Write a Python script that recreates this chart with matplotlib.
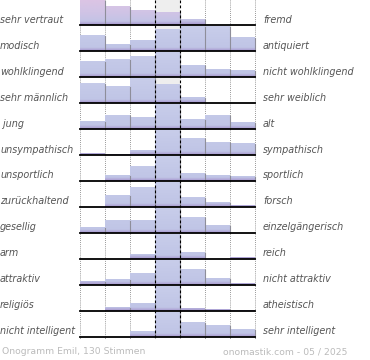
import numpy as np
import matplotlib.pyplot as plt
from matplotlib.colors import LinearSegmentedColormap

# left / right labels of each pair
left_labels = ['sehr vertraut', 'modisch', 'wohlklingend', 'sehr männlich', ' jung',
               'unsympathisch', 'unsportlich', 'zurückhaltend', 'gesellig', 'arm',
               'attraktiv', 'religiös', 'nicht intelligent']
right_labels = ['fremd', 'antiquiert', 'nicht wohlklingend', 'sehr weiblich', 'alt',
                'sympathisch', 'sportlich', 'forsch', 'einzelgängerisch', 'reich',
                'nicht attraktiv', 'atheistisch', 'sehr intelligent']

# relative share per answer (max of each row = 100)
values = [
    [100, 78, 60, 52, 25, 0, 0],
    [64, 28, 44, 88, 100, 100, 56],
    [66, 74, 86, 100, 48, 31, 28],
    [80, 68, 100, 76, 24, 0, 0],
    [33, 56, 49, 100, 40, 55, 28],
    [8, 4, 20, 100, 69, 51, 48],
    [0, 23, 59, 100, 32, 23, 19],
    [0, 48, 79, 100, 39, 21, 8],
    [24, 52, 52, 100, 64, 32, 0],
    [0, 0, 21, 100, 28, 0, 6],
    [17, 24, 48, 100, 62, 26, 8],
    [0, 15, 31, 100, 13, 8, 4],
    [0, 0, 23, 100, 57, 47, 31],
]

footer_left = 'Onogramm Emil, 130 Stimmen'
footer_right = 'onomastik.com - 05 / 2025'

cmap_first = LinearSegmentedColormap.from_list('first', [
    (0, '#dcc4e4'), (0.5, '#d0c4e6'), (0.86, '#c3c3e5'), (0.93, '#b3a9d8'), (1, '#a696cd')])
cmap_rest = LinearSegmentedColormap.from_list('rest', [
    (0, '#c8cdea'), (0.86, '#c0c5e6'), (0.93, '#b3acd9'), (1, '#a797ce')])
grad = np.linspace(0, 1, 64).reshape(-1, 1)

fig = plt.figure(figsize=(3.7, 3.6), dpi=100)
ax = fig.add_axes([0, 0, 1, 1])
ax.set_xlim(0, 370)
ax.set_ylim(360, 0)
ax.axis('off')

x0, colw = 80, 24.95
y0, rowh, maxh = 25.3, 25.95, 25
n = len(values)
last = y0 + rowh * (n - 1)

# grey background of the middle column
ax.axvspan(x0 + 3 * colw, x0 + 4 * colw, ymin=1 - (last + 1) / 360, ymax=1,
           color='#eeeeee', zorder=0, lw=0)

xs = [x0 + colw * (j + 0.5) for j in range(7)]
for i, row in enumerate(values):
    base = y0 + rowh * i
    hs = [v / 100 * maxh for v in row]
    bars = ax.bar(xs, [-h for h in hs], width=colw, bottom=base,
                  color='#c4c9e7', linewidth=0, zorder=2)
    cm = cmap_first if i == 0 else cmap_rest
    for b, h, x in zip(bars, hs, xs):
        if h <= 0:
            continue
        im = ax.imshow(grad, cmap=cm, aspect='auto', interpolation='bilinear',
                       extent=[x0, x0 + 7 * colw, base, base - maxh], zorder=2.2)
        im.set_clip_path(b)
        # shadow line at the right side of the bar
        xr = x + colw / 2
        ax.plot([xr, xr], [base - h + 1, base], color='#8e8e9a', lw=0.8, zorder=2.6)
    ax.plot([x0, x0 + 7 * colw], [base, base], color='black', lw=1.3, zorder=4)
    ax.text(0, base - 5.5, left_labels[i], ha='left', va='center',
            fontsize=6.9, style='italic', color='#555555')
    ax.text(263, base - 5.5, right_labels[i], ha='left', va='center',
            fontsize=6.9, style='italic', color='#555555')

# column separators
for j in range(8):
    x = x0 + colw * j
    if j in (3, 4):
        ax.plot([x, x], [0, last + 2], color='black', lw=0.8, ls=(0, (2.5, 2)), zorder=3)
    else:
        ax.plot([x, x], [0, last + 2], color='#777777', lw=0.6, ls=(0, (1, 1.5)), zorder=1)

ax.set_xlim(0, 370)
ax.set_ylim(360, 0)

ax.text(2, 352, footer_left, ha='left', va='center', fontsize=6.7, color='#bbbbbb')
ax.text(347, 352, footer_right, ha='right', va='center', fontsize=6.7, color='#bbbbbb')

fig.savefig('out.png', dpi=100)
